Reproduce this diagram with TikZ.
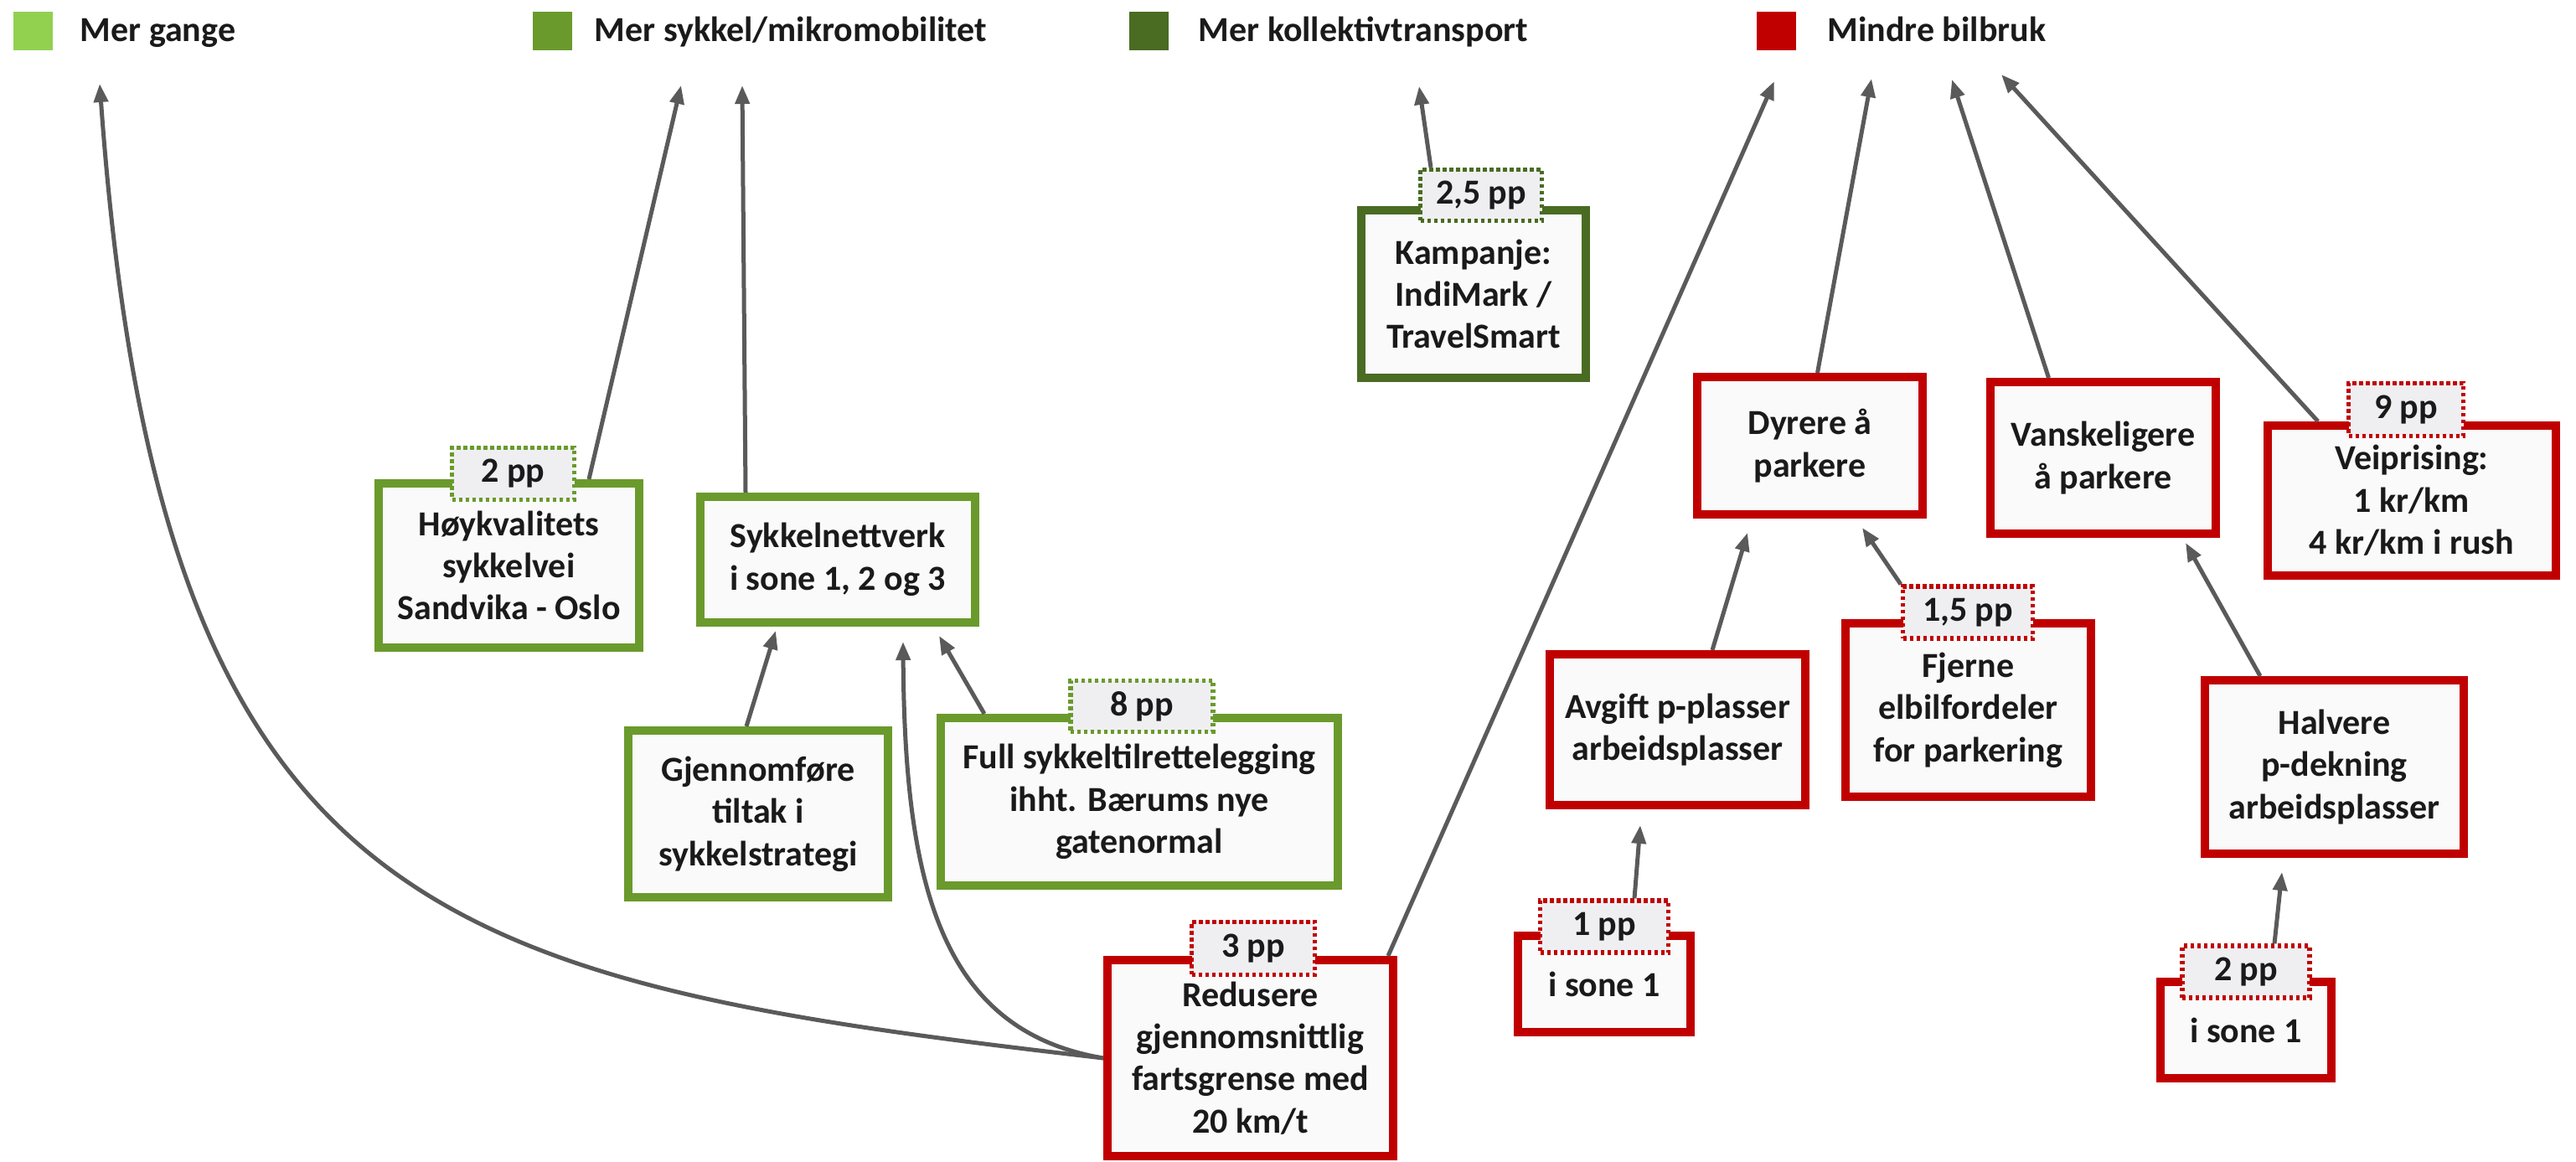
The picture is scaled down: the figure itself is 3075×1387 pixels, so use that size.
\documentclass[tikz,border=0pt]{standalone}
\usepackage{fontspec}
\setmainfont{Carlito}
\usetikzlibrary{arrows.meta,calc}
\definecolor{lgreen}{HTML}{92D050}
\definecolor{mgreen}{HTML}{6A9A2C}
\definecolor{dgreen}{HTML}{4A6B22}
\definecolor{cred}{HTML}{C00000}
\definecolor{boxfill}{HTML}{FAFAFA}
\definecolor{lblfill}{HTML}{EFEFF2}
\definecolor{arrgray}{HTML}{5A5A5A}
\definecolor{txt}{HTML}{1A1A1A}
\begin{document}
\begin{tikzpicture}[x=0.25pt,y=-0.25pt,
  every node/.style={font=\bfseries\fontsize{10.5}{12.6}\selectfont, text=txt, inner sep=0pt, align=center},
  box/.style={draw=#1, line width=2.5pt, fill=boxfill},
  lbl/.style={draw=#1, line width=1.3pt, dash pattern=on 1.1pt off 0.9pt, fill=lblfill},
  arr/.style={draw=arrgray, line width=1.25pt, -{Triangle[length=5.5pt,width=4.2pt]}},
  legsq/.style={fill=#1, minimum width=11.75pt, minimum height=11.5pt},
]
\useasboundingbox (0,0) rectangle (3075,1387);

% legend
\node[legsq=lgreen] (sq1) at (39,37) {};
\node[anchor=base west] (lg1) at (95,50) {Mer gange};
\node[legsq=mgreen] (sq2) at (659,37) {};
\node[anchor=base west] (lg2) at (709,50) {Mer sykkel/mikromobilitet};
\node[legsq=dgreen] (sq3) at (1371,37) {};
\node[anchor=base west] (lg3) at (1430,50) {Mer kollektivtransport};
\node[legsq=cred] (sq4) at (2120,37) {};
\node[anchor=base west] (lg4) at (2181,50) {Mindre bilbruk};

% arrow targets near the legend
\coordinate (tGange) at (119,100);
\coordinate (tSyk1) at (813,102);
\coordinate (tSyk2) at (886,102);
\coordinate (tKoll) at (1694,103);
\coordinate (tBil1) at (2118,97);
\coordinate (tBil2) at (2234,94);
\coordinate (tBil3) at (2330,95);
\coordinate (tBil4) at (2389,89);

% green boxes
\node[box=mgreen, minimum width=77.75pt, minimum height=49pt] (hoy) at (607.5,675) {Høykvalitets\\sykkelvei\\Sandvika - Oslo};
\node[box=mgreen, minimum width=82pt, minimum height=37.5pt] (syk) at (1000,668) {Sykkelnettverk\\i sone 1, 2 og 3};
\node[box=mgreen, minimum width=77.5pt, minimum height=49.75pt] (gjen) at (905,971.5) {Gjennomføre\\tiltak i\\sykkelstrategi};
\node[box=mgreen, minimum width=118.5pt, minimum height=50pt] (full) at (1360,957) {Full sykkeltilrettelegging\\ihht. Bærums nye\\gatenormal};
\node[box=dgreen, minimum width=67pt, minimum height=50pt] (kamp) at (1759,351) {Kampanje:\\IndiMark /\\TravelSmart};

% red boxes
\node[box=cred, minimum width=85.25pt, minimum height=58.5pt] (red) at (1492.5,1263) {Redusere\\gjennomsnittlig\\fartsgrense med\\20 km/t};
\node[box=cred, minimum width=67.25pt, minimum height=41pt] (dyr) at (2160.5,532) {Dyrere å\\parkere};
\node[box=cred, minimum width=67.25pt, minimum height=45.25pt] (van) at (2510.5,546.5) {Vanskeligere\\å parkere};
\node[box=cred, minimum width=86pt, minimum height=44.75pt] (vei) at (2879,597.5) {Veiprising:\\1 kr/km\\4 kr/km i rush};
\node[box=cred, minimum width=76.25pt, minimum height=45pt] (avg) at (2002.5,871) {Avgift p-plasser\\arbeidsplasser};
\node[box=cred, minimum width=73.25pt, minimum height=51.75pt] (fje) at (2349.5,847.5) {Fjerne\\elbilfordeler\\for parkering};
\node[box=cred, minimum width=77.25pt, minimum height=51.75pt] (hal) at (2786.5,915.5) {Halvere\\p-dekning\\arbeidsplasser};
\node[box=cred, minimum width=51.5pt, minimum height=28.75pt] (sa) at (1915,1174.5) {i sone 1};
\node[box=cred, minimum width=51pt, minimum height=28.75pt] (sb) at (2681,1229.5) {i sone 1};

% pp labels
\node[lbl=mgreen, minimum width=36.5pt, minimum height=15.5pt] (hoyL) at (612.5,565.5) {2 pp};
\node[lbl=mgreen, minimum width=42.5pt, minimum height=15.25pt] (fullL) at (1363,843) {8 pp};
\node[lbl=dgreen, minimum width=36.25pt, minimum height=15.25pt] (kampL) at (1768,233) {2,5 pp};
\node[lbl=cred, minimum width=36.75pt, minimum height=15.75pt] (redL) at (1496,1132) {3 pp};
\node[lbl=cred, minimum width=34.25pt, minimum height=15.75pt] (veiL) at (2872,489) {9 pp};
\node[lbl=cred, minimum width=38.75pt, minimum height=15.5pt] (fjeL) at (2349,731) {1,5 pp};
\node[lbl=cred, minimum width=38.25pt, minimum height=15.5pt] (saL) at (1915,1106) {1 pp};
\node[lbl=cred, minimum width=38pt, minimum height=15.5pt] (sbL) at (2681,1160) {2 pp};

% connectors
\draw[arr] (red.west) .. controls (521,1171) and (191,1097) .. (tGange);
\draw[arr] (red.west) .. controls (1120,1230) and (1080,1050) .. ($(syk.south)+(78,18)$);
\draw[arr] ($(red.north east)+(-11,0)$) -- (tBil1);
\draw[arr] ($(hoy.north)+(95.5,0)$) -- (tSyk1);
\draw[arr] ($(syk.north)+(-110,0)$) -- (tSyk2);
\draw[arr] ($(gjen.north)+(-14,0)$) -- ($(syk.south)+(-74,5)$);
\draw[arr] ($(full.north)+(-185,0)$) -- ($(syk.south)+(121,11)$);
\draw[arr] ($(kampL.north)+(-60,0)$) -- (tKoll);
\draw[arr] ($(dyr.north)+(9,0)$) -- (tBil2);
\draw[arr] ($(van.north)+(-65,0)$) -- (tBil3);
\draw[arr] ($(vei.north)+(-112,0)$) -- (tBil4);
\draw[arr] ($(avg.north)+(41.5,0)$) -- ($(dyr.south)+(-74.5,17)$);
\draw[arr] (fjeL.north west) -- ($(dyr.south)+(62.5,11)$);
\draw[arr] ($(hal.north)+(-88.5,0)$) -- ($(van.south)+(98.5,6)$);
\draw[arr] ($(saL.north)+(36,0)$) -- ($(avg.south)+(-44.5,19)$);
\draw[arr] ($(sbL.north)+(34,0)$) -- ($(hal.south)+(-62.5,17)$);
\end{tikzpicture}
\end{document}
